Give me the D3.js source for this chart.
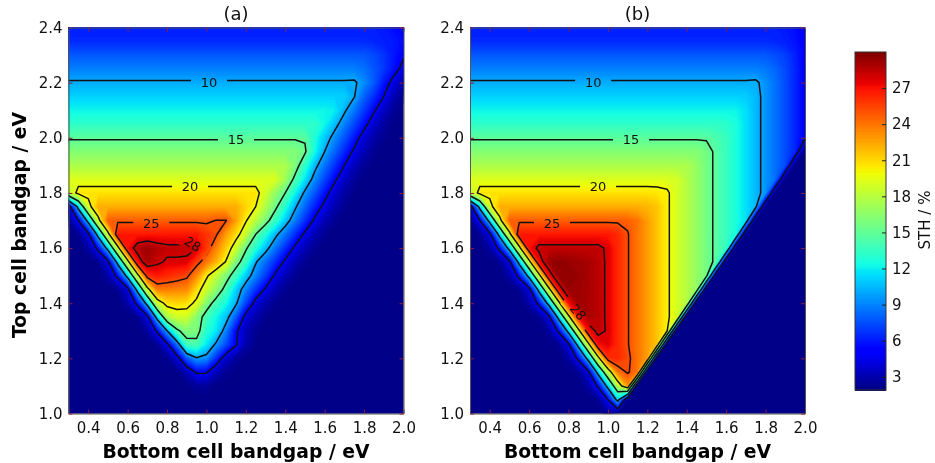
<!DOCTYPE html>
<html>
<head>
<meta charset="utf-8">
<script src="https://cdn.jsdelivr.net/npm/d3@7"></script>
<style>
  body { margin: 0; background: #fff; }
  svg { filter: blur(0.45px); }
  text { font-family: "DejaVu Sans", sans-serif; fill: #111; }
</style>
</head>
<body>
<svg width="935" height="463"></svg>
<script>
// grid columns: bottom cell bandgap .30 .. 2.00, rows: top cell bandgap 2.40 .. 1.00, step .05
const bottomGap = d3.range(35).map(i => +(0.3 + i * 0.05).toFixed(2));
const topGap = d3.range(29).map(i => +(2.4 - i * 0.05).toFixed(2));

const sthA = [
[6.2,6.2,6.2,6.2,6.2,6.2,6.2,6.2,6.2,6.2,6.2,6.2,6.2,6.2,6.2,6.2,6.2,6.2,6.2,6.2,6.2,6.2,6.2,6.2,6.2,6.2,6.2,6.2,6.2,6.2,6.2,6.2,6,5.7,5.3],
[6.5,6.5,6.5,6.5,6.5,6.5,6.5,6.5,6.5,6.5,6.5,6.5,6.5,6.5,6.5,6.5,6.5,6.5,6.5,6.5,6.5,6.5,6.5,6.5,6.5,6.5,6.5,6.5,6.5,6.5,6.5,6.4,6.2,6,5.6],
[7.8,7.8,7.8,7.8,7.8,7.8,7.8,7.8,7.8,7.8,7.8,7.8,7.8,7.8,7.8,7.8,7.8,7.8,7.8,7.8,7.8,7.8,7.8,7.8,7.8,7.8,7.8,7.8,7.8,7.8,7.8,7.4,6.8,6,5.2],
[8.9,8.9,8.9,8.9,8.9,8.9,8.9,8.9,8.9,8.9,8.9,8.9,8.9,8.9,8.9,8.9,8.9,8.9,8.9,8.9,8.9,8.9,8.9,8.9,8.9,8.9,8.9,8.9,8.9,8.9,8.5,7.8,6.9,5.8,4.4],
[10.2,10.2,10.2,10.2,10.2,10.2,10.2,10.2,10.2,10.2,10.2,10.2,10.2,10.2,10.2,10.2,10.2,10.2,10.2,10.2,10.2,10.2,10.2,10.2,10.2,10.2,10.2,10.2,10.2,10.25,9.3,7.9,6,4.3,3],
[11.2,11.2,11.2,11.2,11.2,11.2,11.2,11.2,11.2,11.2,11.2,11.2,11.2,11.2,11.2,11.2,11.2,11.2,11.2,11.2,11.2,11.2,11.2,11.2,11.2,11.2,11.2,11.2,11.2,10.1,8.1,6.6,5,3.2,2.3],
[12.2,12.2,12.2,12.2,12.2,12.2,12.2,12.2,12.2,12.2,12.2,12.2,12.2,12.2,12.2,12.2,12.2,12.2,12.2,12.2,12.2,12.2,12.2,12.2,12.2,12.2,12.2,12,10.3,8.7,7,5.3,3.6,2.5,2.1],
[13.3,13.3,13.3,13.3,13.3,13.3,13.3,13.3,13.3,13.3,13.3,13.3,13.3,13.3,13.3,13.3,13.3,13.3,13.3,13.3,13.3,13.3,13.3,13.3,13.3,13.3,12.3,10.7,9,7.3,5.7,3.8,2.7,2.2,2],
[14.8,14.8,14.8,14.8,14.8,14.8,14.8,14.8,14.8,14.8,14.8,14.8,14.8,14.8,14.8,14.8,14.8,14.8,14.8,14.8,14.8,14.8,14.8,14.8,14.8,12.7,11,9.3,7.7,6,4,2.9,2.3,2,2],
[16.2,16.2,16.2,16.2,16.2,16.2,16.2,16.2,16.2,16.2,16.2,16.2,16.2,16.2,16.2,16.2,16.2,16.2,16.2,16.2,16.2,16.2,16.2,16.2,15.3,12.4,10,8.2,6.4,4.6,3.2,2.4,2,2,2],
[17.6,17.6,17.6,17.6,17.6,17.6,17.6,17.6,17.6,17.6,17.6,17.6,17.6,17.6,17.6,17.6,17.6,17.6,17.6,17.6,17.6,17.6,17.6,16.1,13.3,10.6,8.6,6.8,5,3.4,2.5,2.1,2,2,2],
[19.2,19.2,19.2,19.2,19.2,19.2,19.2,19.2,19.2,19.2,19.2,19.2,19.2,19.2,19.2,19.2,19.2,19.2,19.2,19.2,19.2,19.2,17.2,14.4,11.7,9.2,7.3,5.4,3.6,2.6,2.1,2,2,2,2],
[18,20.7,20.7,20.7,20.7,20.7,20.7,20.7,20.7,20.7,20.7,20.7,20.7,20.7,20.7,20.7,20.7,20.7,20.7,20.7,18.8,16.7,15,12.2,9.6,7.7,5.8,3.9,2.8,2.2,2,2,2,2,2],
[3.5,11,19,22.3,22.3,22.3,22.3,22.3,22.3,22.3,22.3,22.3,22.3,22.3,22.3,22.3,22.3,22.3,21.2,20,17.7,15.5,12.9,10.3,8.2,6.2,4.4,3.1,2.4,2,2,2,2,2,2],
[2.4,5,11,19,24.7,24.7,24.7,24.7,24.7,24.7,24.7,24.7,24.7,24.7,24.7,25.05,25.05,22.7,20.2,18,15.9,13.5,11,8.8,6.7,4.6,3.2,2.4,2,2,2,2,2,2,2],
[2,2.4,4.4,11,19,26.8,26.8,26.8,26.8,26.8,26.8,26.8,26.8,26.8,26,25.2,22.8,20.9,18.5,15,12.8,10.5,8.6,6.6,4.6,3.2,2.4,2,2,2,2,2,2,2,2],
[2,2,2.8,5.6,11,19,27,28.7,29.3,28.7,28.4,28.4,28.4,28.1,25.9,23.6,21.4,18.7,15.3,13,10.7,8.6,6.6,4.6,3.2,2.4,2,2,2,2,2,2,2,2,2],
[2,2,2,2.4,4.4,11,19,27,29,28.3,27.8,27.8,27.7,25.7,24,22.2,19.8,16,13.7,10.2,8.4,6.6,4.6,3.2,2.4,2,2,2,2,2,2,2,2,2,2],
[2,2,2,2,2.9,5.7,11,19,26,26.8,26.3,25.9,25.4,23.4,20.4,18.2,16,13.7,11,9,7,4.6,3.2,2.4,2,2,2,2,2,2,2,2,2,2,2],
[2,2,2,2,2,2.4,4.2,11,19,23.8,23.8,23.6,23.4,21,18.7,16.6,14.1,11.2,9,6.8,4.7,3.2,2.4,2,2,2,2,2,2,2,2,2,2,2,2],
[2,2,2,2,2,2,2.9,5.6,11,18.5,20.8,21,20.8,19.5,16.2,14,12.4,10.3,7.2,4.2,3,2.3,2,2,2,2,2,2,2,2,2,2,2,2,2],
[2,2,2,2,2,2,2,2.4,4.3,11,17.5,18.8,18.8,16.3,14,12.3,10.8,7.8,4.2,3,2.3,2,2,2,2,2,2,2,2,2,2,2,2,2,2],
[2,2,2,2,2,2,2,2,2.7,5.4,10,14.5,16.2,16,13,11.8,9,5.4,3.2,2.4,2,2,2,2,2,2,2,2,2,2,2,2,2,2,2],
[2,2,2,2,2,2,2,2,2,2.4,4.5,8.5,14,14.2,11.8,9.6,7.4,5.2,3,2.2,2,2,2,2,2,2,2,2,2,2,2,2,2,2,2],
[2,2,2,2,2,2,2,2,2,2,2.4,4,7.8,9.8,9.3,6.5,3.8,2.6,2.1,2,2,2,2,2,2,2,2,2,2,2,2,2,2,2,2],
[2,2,2,2,2,2,2,2,2,2,2,2.1,3.2,5.3,5.2,3.3,2.4,2.1,2,2,2,2,2,2,2,2,2,2,2,2,2,2,2,2,2],
[2,2,2,2,2,2,2,2,2,2,2,2,2.1,2.5,2.5,2.1,2,2,2,2,2,2,2,2,2,2,2,2,2,2,2,2,2,2,2],
[2,2,2,2,2,2,2,2,2,2,2,2,2,2,2,2,2,2,2,2,2,2,2,2,2,2,2,2,2,2,2,2,2,2,2],
[2,2,2,2,2,2,2,2,2,2,2,2,2,2,2,2,2,2,2,2,2,2,2,2,2,2,2,2,2,2,2,2,2,2,2]
];

const sthB = [
[6.2,6.2,6.2,6.2,6.2,6.2,6.2,6.2,6.2,6.2,6.2,6.2,6.2,6.2,6.2,6.2,6.2,6.2,6.2,6.2,6.2,6.2,6.2,6.2,6.2,6.2,6.2,6.2,6.2,6.2,6.2,6.2,6,5.7,5.3],
[6.5,6.5,6.5,6.5,6.5,6.5,6.5,6.5,6.5,6.5,6.5,6.5,6.5,6.5,6.5,6.5,6.5,6.5,6.5,6.5,6.5,6.5,6.5,6.5,6.5,6.5,6.5,6.5,6.5,6.5,6.5,6.4,6.2,5.9,5.2],
[7.8,7.8,7.8,7.8,7.8,7.8,7.8,7.8,7.8,7.8,7.8,7.8,7.8,7.8,7.8,7.8,7.8,7.8,7.8,7.8,7.8,7.8,7.8,7.8,7.8,7.8,7.8,7.8,7.8,7.8,7.8,7.5,7.1,6.3,5.2],
[8.9,8.9,8.9,8.9,8.9,8.9,8.9,8.9,8.9,8.9,8.9,8.9,8.9,8.9,8.9,8.9,8.9,8.9,8.9,8.9,8.9,8.9,8.9,8.9,8.9,8.9,8.9,8.9,8.9,8.9,8.7,8.2,7.4,6.4,5.2],
[10.2,10.2,10.2,10.2,10.2,10.2,10.2,10.2,10.2,10.2,10.2,10.2,10.2,10.2,10.2,10.2,10.2,10.2,10.2,10.2,10.2,10.2,10.2,10.2,10.2,10.2,10.2,10.2,10.2,10.3,9.4,8.5,7.5,6.4,5.2],
[11.2,11.2,11.2,11.2,11.2,11.2,11.2,11.2,11.2,11.2,11.2,11.2,11.2,11.2,11.2,11.2,11.2,11.2,11.2,11.2,11.2,11.2,11.2,11.2,11.2,11.2,11.2,11.2,11.1,10.5,9.5,8.5,7.5,6.4,5.2],
[12.2,12.2,12.2,12.2,12.2,12.2,12.2,12.2,12.2,12.2,12.2,12.2,12.2,12.2,12.2,12.2,12.2,12.2,12.2,12.2,12.2,12.2,12.2,12.2,12.2,12.2,12.2,12.2,11.6,10.5,9.5,8.5,7.5,6.4,5.2],
[13.3,13.3,13.3,13.3,13.3,13.3,13.3,13.3,13.3,13.3,13.3,13.3,13.3,13.3,13.3,13.3,13.3,13.3,13.3,13.3,13.3,13.3,13.3,13.3,13.3,13.3,13.2,12.6,11.6,10.5,9.5,8.5,7.5,6.4,5.2],
[14.8,14.8,14.8,14.8,14.8,14.8,14.8,14.8,14.8,14.8,14.8,14.8,14.8,14.8,14.8,14.8,14.8,14.8,14.8,14.8,14.8,14.8,14.8,14.8,14.8,14.3,13.6,12.6,11.6,10.5,9.5,8.5,7.5,6.4,5.2],
[16.2,16.2,16.2,16.2,16.2,16.2,16.2,16.2,16.2,16.2,16.2,16.2,16.2,16.2,16.2,16.2,16.2,16.2,16.2,16.2,16.2,16.2,16.2,16.2,15.7,14.6,13.6,12.6,11.6,10.5,9.5,8.5,7.5,6.4,2],
[17.6,17.6,17.6,17.6,17.6,17.6,17.6,17.6,17.6,17.6,17.6,17.6,17.6,17.6,17.6,17.6,17.6,17.6,17.6,17.6,17.6,17.6,17.6,16.8,15.7,14.6,13.6,12.6,11.6,10.5,9.5,8.5,7.5,2,2],
[19.2,19.2,19.2,19.2,19.2,19.2,19.2,19.2,19.2,19.2,19.2,19.2,19.2,19.2,19.2,19.2,19.2,19.2,19.2,19.2,19.2,19,17.9,16.8,15.7,14.6,13.6,12.6,11.6,10.5,9.5,8.5,2,2,2],
[18,20.7,20.7,20.7,20.7,20.7,20.7,20.7,20.7,20.7,20.7,20.7,20.7,20.7,20.7,20.7,20.7,20.7,20.7,20.6,20.3,19,17.9,16.8,15.7,14.6,13.6,12.6,11.6,10.5,9.5,2,2,2,2],
[3.5,11,19,22.3,22.3,22.3,22.3,22.3,22.3,22.3,22.3,22.3,22.3,22.3,22.3,22.3,22.3,22.3,22.1,21.6,20.3,19,17.9,16.8,15.7,14.6,13.6,12.6,11.6,10.5,2,2,2,2,2],
[2.4,5,11,19,24.7,24.7,24.7,24.7,24.7,24.7,24.7,24.7,24.7,24.7,24.7,24.7,24.7,24,22.8,21.6,20.3,19,17.9,16.8,15.7,14.6,13.6,12.6,11.6,2,2,2,2,2,2],
[2,2.4,4.4,11,19,26.8,26.8,26.8,26.8,26.8,26.8,26.8,26.8,26.8,26.8,26.3,25.1,24,22.8,21.6,20.3,19,17.9,16.8,15.7,14.6,13.6,12.6,2,2,2,2,2,2,2],
[2,2,2.8,5.6,11,19,27,28.4,28.4,28.4,28.4,28.4,28.4,28.4,27.7,26.3,25.1,24,22.8,21.6,20.3,19,17.9,16.8,15.7,14.6,13.6,2,2,2,2,2,2,2,2],
[2,2,2,2.4,4.4,11,19,27,29.3,29.7,29.4,29.3,29,28.6,27.7,26.3,25.1,24,22.8,21.6,20.3,19,17.9,16.8,15.7,14.6,2,2,2,2,2,2,2,2,2],
[2,2,2,2,2.9,5.7,11,19,27,29.5,29.5,29.4,29.1,28.6,27.7,26.3,25.1,24,22.8,21.6,20.3,19,17.9,16.8,15.7,2,2,2,2,2,2,2,2,2,2],
[2,2,2,2,2,2.4,4.2,11,19,27,29.4,29.3,29,28.6,27.7,26.3,25.1,24,22.8,21.6,20.3,19,17.9,16.8,2,2,2,2,2,2,2,2,2,2,2],
[2,2,2,2,2,2,2.9,5.6,11,19,27,29.2,29,28.6,27.7,26.3,25.1,24,22.8,21.6,20.3,19,17.9,2,2,2,2,2,2,2,2,2,2,2,2],
[2,2,2,2,2,2,2,2.4,4.3,11,19,27,29,28.6,27.7,26.3,25.1,24,22.8,21.6,20.3,19,2,2,2,2,2,2,2,2,2,2,2,2,2],
[2,2,2,2,2,2,2,2,2.7,5.4,11,19,27,28.5,27.8,26.3,25.1,24,22.8,21.6,20.3,2,2,2,2,2,2,2,2,2,2,2,2,2,2],
[2,2,2,2,2,2,2,2,2,2.4,4.5,11,19,27,27.6,26.3,25.1,24,22.8,21.6,2,2,2,2,2,2,2,2,2,2,2,2,2,2,2],
[2,2,2,2,2,2,2,2,2,2,2.8,5.5,11,19,26,26.3,25.4,24,22.8,2,2,2,2,2,2,2,2,2,2,2,2,2,2,2,2],
[2,2,2,2,2,2,2,2,2,2,2,2.4,4.4,11,18,24,25.2,24,2,2,2,2,2,2,2,2,2,2,2,2,2,2,2,2,2],
[2,2,2,2,2,2,2,2,2,2,2,2,2.8,5.3,11,18,23,2,2,2,2,2,2,2,2,2,2,2,2,2,2,2,2,2,2],
[2,2,2,2,2,2,2,2,2,2,2,2,2,2.4,5,11,2,2,2,2,2,2,2,2,2,2,2,2,2,2,2,2,2,2,2],
[2,2,2,2,2,2,2,2,2,2,2,2,2,2,2.6,2,2,2,2,2,2,2,2,2,2,2,2,2,2,2,2,2,2,2,2]
];

const lineLevels = [5, 10, 15, 20, 25, 28];
const xTicks = [0.4, 0.6, 0.8, 1.0, 1.2, 1.4, 1.6, 1.8, 2.0];
const yTicks = [1.0, 1.2, 1.4, 1.6, 1.8, 2.0, 2.2, 2.4];
const barTicks = [3, 6, 9, 12, 15, 18, 21, 24, 27];

// contour labels, in data units: level, bottom gap, top gap, rotation
const labelLevels = [10, 15, 20, 25, 28];
const labelXA = [1.013, 1.15, 0.917, 0.72, 0.93];
const labelYA = [2.2, 1.995, 1.825, 1.69, 1.615];
const labelRotA = [0, 0, 0, 0, 32];
const labelXB = [0.925, 1.117, 0.95, 0.716, 0.848];
const labelYB = [2.2, 1.995, 1.825, 1.69, 1.368];
const labelRotB = [0, 0, 0, 0, 50];

[sthA, sthB].forEach(g => g.forEach(r => { if (r.length != 35) throw new Error("row length " + r.length) }));

const vMin = 1.9, vMax = 30;

// matplotlib jet
const jetR = d3.scaleLinear([0, 0.35, 0.66, 0.89, 1], [0, 0, 1, 1, 0.5]).clamp(true);
const jetG = d3.scaleLinear([0, 0.125, 0.375, 0.64, 0.91, 1], [0, 0, 1, 1, 0, 0]).clamp(true);
const jetB = d3.scaleLinear([0, 0.11, 0.34, 0.65, 1], [0.5, 1, 1, 0, 0]).clamp(true);
const norm = d3.scaleLinear([vMin, vMax], [0, 1]);
const jet = v => {
    const t = norm(v);
    return d3.rgb(jetR(t) * 255, jetG(t) * 255, jetB(t) * 255).formatHex();
};

const svg = d3.select("svg");
const plotTop = 27.5, plotBottom = 413.5, plotWidth = 335;
const y = d3.scaleLinear([1.0, 2.4], [plotBottom, plotTop]);
const dx = bottomGap[1] - bottomGap[0];
const dy = topGap[0] - topGap[1];

function drawPanel(id, left, grid, title, labelX, labelY, labelRot) {
    const x = d3.scaleLinear([0.3, 2.0], [left, left + plotWidth]);
    const flat = grid.flat();
    const contours = d3.contours().size([bottomGap.length, topGap.length]);
    const path = d3.geoPath(d3.geoTransform({
        point(px, py) {
            this.stream.point(x(bottomGap[0] + (px - 0.5) * dx), y(topGap[0] - (py - 0.5) * dy));
        }
    }));

    const defs = svg.append("defs");
    defs.append("clipPath").attr("id", "clip" + id)
        .append("rect")
        .attr("x", left).attr("y", plotTop)
        .attr("width", plotWidth).attr("height", plotBottom - plotTop);

    const mask = defs.append("mask").attr("id", "gaps" + id)
        .attr("maskUnits", "userSpaceOnUse")
        .attr("x", 0).attr("y", 0).attr("width", 935).attr("height", 463);
    mask.append("rect").attr("width", 935).attr("height", 463).attr("fill", "#fff");
    mask.selectAll("rect.gap")
        .data(labelLevels)
        .enter()
        .append("rect")
        .attr("class", "gap")
        .attr("x", -18).attr("y", -8).attr("width", 36).attr("height", 16)
        .attr("fill", "#000")
        .attr("transform", (d, i) => `translate(${x(labelX[i])},${y(labelY[i])}) rotate(${labelRot[i]})`);

    const plot = svg.append("g").attr("clip-path", `url(#clip${id})`);

    plot.append("rect")
        .attr("x", left).attr("y", plotTop)
        .attr("width", plotWidth).attr("height", plotBottom - plotTop)
        .attr("fill", jet(vMin));

    // smooth shading: stacked filled contours
    plot.append("g")
        .selectAll("path")
        .data(contours.thresholds(d3.range(2, 30, 0.2))(flat))
        .enter()
        .append("path")
        .attr("d", path)
        .attr("fill", d => jet(d.value + 0.1));

    plot.append("g")
        .attr("mask", `url(#gaps${id})`)
        .selectAll("path")
        .data(contours.thresholds(lineLevels)(flat))
        .enter()
        .append("path")
        .attr("d", path)
        .attr("fill", "none")
        .attr("stroke", "#111")
        .attr("stroke-width", 1.5)
        .attr("stroke-linejoin", "round");

    plot.selectAll("text")
        .data(labelLevels)
        .enter()
        .append("text")
        .attr("transform", (d, i) => `translate(${x(labelX[i])},${y(labelY[i])}) rotate(${labelRot[i]})`)
        .attr("text-anchor", "middle")
        .attr("dy", "0.36em")
        .attr("font-size", 13)
        .text(d => d);

    // frame and inward ticks on all four sides
    const fmt = d3.format(".1f");
    const bottom = svg.append("g").attr("transform", `translate(0,${plotBottom})`)
        .call(d3.axisBottom(x).tickValues(xTicks).tickFormat(fmt).tickSizeOuter(0).tickSizeInner(-4).tickPadding(9));
    const leftAxis = svg.append("g").attr("transform", `translate(${left},0)`)
        .call(d3.axisLeft(y).tickValues(yTicks).tickFormat(fmt).tickSizeOuter(0).tickSizeInner(-4).tickPadding(6));
    const topAxis = svg.append("g").attr("transform", `translate(0,${plotTop})`)
        .call(d3.axisTop(x).tickValues(xTicks).tickFormat("").tickSizeOuter(0).tickSizeInner(-4));
    const rightAxis = svg.append("g").attr("transform", `translate(${left + plotWidth},0)`)
        .call(d3.axisRight(y).tickValues(yTicks).tickFormat("").tickSizeOuter(0).tickSizeInner(-4));

    [bottom, leftAxis, topAxis, rightAxis].forEach(a => {
        a.selectAll(".domain").attr("stroke", "#555");
        a.selectAll(".tick line").attr("stroke", "#8a2040");
        a.selectAll("text").attr("font-size", 15).attr("font-family", null).style("fill", "#111");
    });

    svg.append("text")
        .attr("x", left + plotWidth / 2).attr("y", 20)
        .attr("text-anchor", "middle")
        .attr("font-size", 18)
        .text(title);

    svg.append("text")
        .attr("x", left + plotWidth / 2).attr("y", 458)
        .attr("text-anchor", "middle")
        .attr("font-size", 18.8)
        .attr("font-weight", "bold")
        .style("fill", "#000")
        .text("Bottom cell bandgap / eV");
}

drawPanel("A", 68.5, sthA, "(a)", labelXA, labelYA, labelRotA);
drawPanel("B", 470, sthB, "(b)", labelXB, labelYB, labelRotB);

svg.append("text")
    .attr("transform", "translate(25.5,225) rotate(-90)")
    .attr("text-anchor", "middle")
    .attr("font-size", 18.8)
    .attr("font-weight", "bold")
    .style("fill", "#000")
    .text("Top cell bandgap / eV");

// colorbar
const barLeft = 855, barWidth = 31;
const barY = d3.scaleLinear([vMin, vMax], [390, 52]);
const barStep = 0.1;
svg.append("g")
    .attr("shape-rendering", "crispEdges")
    .selectAll("rect")
    .data(d3.range(vMin, vMax, barStep))
    .enter()
    .append("rect")
    .attr("x", barLeft)
    .attr("y", d => barY(d + barStep))
    .attr("width", barWidth)
    .attr("height", d => barY(d) - barY(d + barStep) + 0.5)
    .attr("fill", d => jet(d + barStep / 2));
svg.append("rect")
    .attr("x", barLeft).attr("y", barY(vMax))
    .attr("width", barWidth).attr("height", barY(vMin) - barY(vMax))
    .attr("fill", "none").attr("stroke", "#333");
const barAxis = svg.append("g").attr("transform", `translate(${barLeft + barWidth},0)`)
    .call(d3.axisRight(barY).tickValues(barTicks).tickSizeOuter(0).tickSizeInner(-4).tickPadding(6));
barAxis.select(".domain").remove();
barAxis.selectAll(".tick line").attr("stroke", "#222");
barAxis.selectAll("text").attr("font-size", 15).attr("font-family", null).style("fill", "#111");

svg.append("text")
    .attr("transform", "translate(930,220) rotate(-90)")
    .attr("text-anchor", "middle")
    .attr("font-size", 15)
    .text("STH / %");
</script>
</body>
</html>
